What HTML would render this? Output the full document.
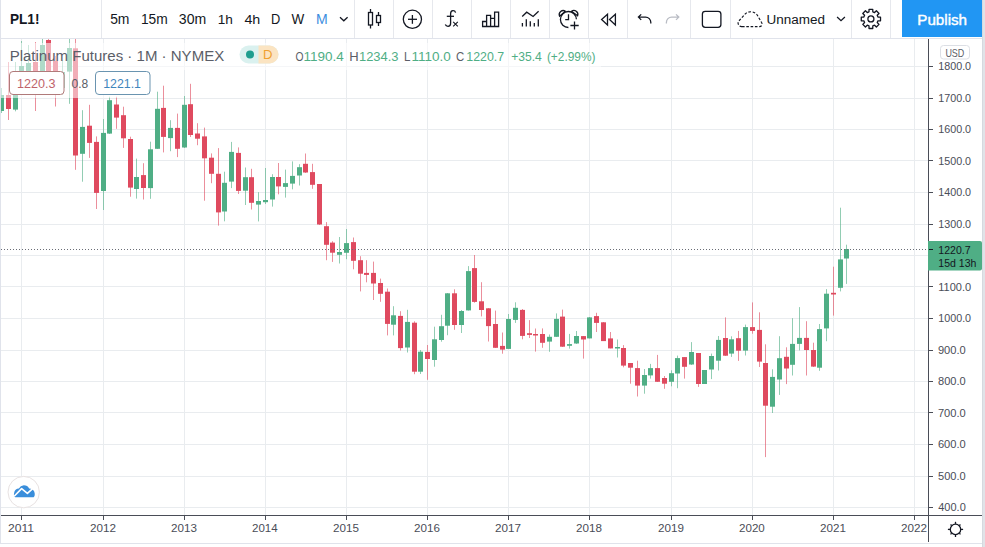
<!DOCTYPE html><html><head><meta charset="utf-8"><style>
html,body{margin:0;padding:0;width:985px;height:547px;overflow:hidden;background:#e1e3e8;}
svg{position:absolute;left:0;top:0;font-family:"Liberation Sans",sans-serif;}
</style></head><body>
<svg width="985" height="547" viewBox="0 0 985 547">
<rect x="0" y="0" width="982" height="544" fill="#ffffff"/>
<rect x="0" y="0" width="1" height="544" fill="#e0e3eb"/>
<rect x="982" y="0" width="1" height="547" fill="#d6d9df"/>
<rect x="0" y="543" width="982" height="1" fill="#e0e3eb"/>
<rect x="0" y="544" width="982" height="3" fill="#ffffff"/>
<defs><clipPath id="pane"><rect x="1" y="39" width="927" height="476"/></clipPath></defs>
<g clip-path="url(#pane)">
<rect x="1" y="507" width="927" height="1" fill="#e9ecef"/>
<rect x="1" y="476" width="927" height="1" fill="#e9ecef"/>
<rect x="1" y="444" width="927" height="1" fill="#e9ecef"/>
<rect x="1" y="412" width="927" height="1" fill="#e9ecef"/>
<rect x="1" y="381" width="927" height="1" fill="#e9ecef"/>
<rect x="1" y="350" width="927" height="1" fill="#e9ecef"/>
<rect x="1" y="318" width="927" height="1" fill="#e9ecef"/>
<rect x="1" y="286" width="927" height="1" fill="#e9ecef"/>
<rect x="1" y="255" width="927" height="1" fill="#e9ecef"/>
<rect x="1" y="224" width="927" height="1" fill="#e9ecef"/>
<rect x="1" y="192" width="927" height="1" fill="#e9ecef"/>
<rect x="1" y="160" width="927" height="1" fill="#e9ecef"/>
<rect x="1" y="129" width="927" height="1" fill="#e9ecef"/>
<rect x="1" y="98" width="927" height="1" fill="#e9ecef"/>
<rect x="1" y="66" width="927" height="1" fill="#e9ecef"/>
<rect x="21" y="39" width="1" height="476" fill="#e9ecef"/>
<rect x="103" y="39" width="1" height="476" fill="#e9ecef"/>
<rect x="184" y="39" width="1" height="476" fill="#e9ecef"/>
<rect x="265" y="39" width="1" height="476" fill="#e9ecef"/>
<rect x="346" y="39" width="1" height="476" fill="#e9ecef"/>
<rect x="427" y="39" width="1" height="476" fill="#e9ecef"/>
<rect x="508" y="39" width="1" height="476" fill="#e9ecef"/>
<rect x="589" y="39" width="1" height="476" fill="#e9ecef"/>
<rect x="671" y="39" width="1" height="476" fill="#e9ecef"/>
<rect x="752" y="39" width="1" height="476" fill="#e9ecef"/>
<rect x="833" y="39" width="1" height="476" fill="#e9ecef"/>
<rect x="914" y="39" width="1" height="476" fill="#e9ecef"/>
<rect x="1" y="88.0" width="1" height="25.0" fill="#4fae85" fill-opacity="0.62"/>
<rect x="-1" y="95.0" width="5" height="16.0" fill="#4fae85"/>
<rect x="8" y="62.0" width="1" height="58.0" fill="#df4a5f" fill-opacity="0.62"/>
<rect x="6" y="95.0" width="5" height="14.0" fill="#df4a5f"/>
<rect x="15" y="62.0" width="1" height="49.3" fill="#4fae85" fill-opacity="0.62"/>
<rect x="13" y="78.0" width="5" height="31.6" fill="#4fae85"/>
<rect x="21" y="41.0" width="1" height="51.0" fill="#4fae85" fill-opacity="0.62"/>
<rect x="19" y="66.0" width="5" height="12.0" fill="#4fae85"/>
<rect x="28" y="45.0" width="1" height="43.0" fill="#4fae85" fill-opacity="0.62"/>
<rect x="26" y="63.0" width="5" height="15.0" fill="#4fae85"/>
<rect x="35" y="42.0" width="1" height="69.0" fill="#df4a5f" fill-opacity="0.62"/>
<rect x="33" y="62.0" width="5" height="18.0" fill="#df4a5f"/>
<rect x="42" y="38.0" width="1" height="52.0" fill="#4fae85" fill-opacity="0.62"/>
<rect x="40" y="45.0" width="5" height="30.0" fill="#4fae85"/>
<rect x="48" y="38.0" width="1" height="54.0" fill="#df4a5f" fill-opacity="0.62"/>
<rect x="46" y="40.0" width="5" height="40.0" fill="#df4a5f"/>
<rect x="55" y="56.0" width="1" height="50.5" fill="#df4a5f" fill-opacity="0.62"/>
<rect x="53" y="61.0" width="5" height="19.0" fill="#df4a5f"/>
<rect x="62" y="60.0" width="1" height="35.0" fill="#4fae85" fill-opacity="0.62"/>
<rect x="60" y="72.0" width="5" height="16.0" fill="#4fae85"/>
<rect x="69" y="38.0" width="1" height="65.8" fill="#4fae85" fill-opacity="0.62"/>
<rect x="67" y="48.0" width="5" height="23.6" fill="#4fae85"/>
<rect x="75" y="38.0" width="1" height="131.8" fill="#df4a5f" fill-opacity="0.62"/>
<rect x="73" y="48.3" width="5" height="107.2" fill="#df4a5f"/>
<rect x="82" y="110.2" width="1" height="71.5" fill="#4fae85" fill-opacity="0.62"/>
<rect x="80" y="126.9" width="5" height="26.9" fill="#4fae85"/>
<rect x="89" y="104.8" width="1" height="53.1" fill="#df4a5f" fill-opacity="0.62"/>
<rect x="87" y="125.7" width="5" height="17.2" fill="#df4a5f"/>
<rect x="96" y="136.4" width="1" height="72.6" fill="#df4a5f" fill-opacity="0.62"/>
<rect x="94" y="141.9" width="5" height="51.0" fill="#df4a5f"/>
<rect x="103" y="119.0" width="1" height="91.0" fill="#4fae85" fill-opacity="0.62"/>
<rect x="101" y="132.9" width="5" height="58.1" fill="#4fae85"/>
<rect x="109" y="96.7" width="1" height="37.3" fill="#4fae85" fill-opacity="0.62"/>
<rect x="107" y="100.2" width="5" height="33.4" fill="#4fae85"/>
<rect x="116" y="96.7" width="1" height="32.1" fill="#df4a5f" fill-opacity="0.62"/>
<rect x="114" y="104.5" width="5" height="13.1" fill="#df4a5f"/>
<rect x="123" y="106.7" width="1" height="41.2" fill="#df4a5f" fill-opacity="0.62"/>
<rect x="121" y="115.2" width="5" height="23.1" fill="#df4a5f"/>
<rect x="130" y="136.7" width="1" height="60.0" fill="#df4a5f" fill-opacity="0.62"/>
<rect x="128" y="139.0" width="5" height="48.6" fill="#df4a5f"/>
<rect x="136" y="158.6" width="1" height="40.0" fill="#4fae85" fill-opacity="0.62"/>
<rect x="134" y="177.0" width="5" height="12.0" fill="#4fae85"/>
<rect x="143" y="163.2" width="1" height="36.3" fill="#df4a5f" fill-opacity="0.62"/>
<rect x="141" y="175.1" width="5" height="12.9" fill="#df4a5f"/>
<rect x="150" y="141.7" width="1" height="57.1" fill="#4fae85" fill-opacity="0.62"/>
<rect x="148" y="149.3" width="5" height="38.8" fill="#4fae85"/>
<rect x="157" y="91.7" width="1" height="57.3" fill="#4fae85" fill-opacity="0.62"/>
<rect x="155" y="108.8" width="5" height="40.0" fill="#4fae85"/>
<rect x="163" y="85.7" width="1" height="66.7" fill="#df4a5f" fill-opacity="0.62"/>
<rect x="161" y="107.9" width="5" height="29.0" fill="#df4a5f"/>
<rect x="170" y="120.2" width="1" height="31.0" fill="#4fae85" fill-opacity="0.62"/>
<rect x="168" y="127.9" width="5" height="10.2" fill="#4fae85"/>
<rect x="177" y="113.6" width="1" height="43.5" fill="#df4a5f" fill-opacity="0.62"/>
<rect x="175" y="127.9" width="5" height="20.9" fill="#df4a5f"/>
<rect x="184" y="96.0" width="1" height="52.0" fill="#4fae85" fill-opacity="0.62"/>
<rect x="182" y="104.8" width="5" height="42.7" fill="#4fae85"/>
<rect x="190" y="83.8" width="1" height="53.2" fill="#df4a5f" fill-opacity="0.62"/>
<rect x="188" y="104.2" width="5" height="30.8" fill="#df4a5f"/>
<rect x="197" y="123.2" width="1" height="22.0" fill="#df4a5f" fill-opacity="0.62"/>
<rect x="195" y="133.5" width="5" height="5.2" fill="#df4a5f"/>
<rect x="204" y="127.6" width="1" height="73.1" fill="#df4a5f" fill-opacity="0.62"/>
<rect x="202" y="136.4" width="5" height="21.9" fill="#df4a5f"/>
<rect x="211" y="153.4" width="1" height="29.8" fill="#df4a5f" fill-opacity="0.62"/>
<rect x="209" y="157.7" width="5" height="16.1" fill="#df4a5f"/>
<rect x="218" y="148.1" width="1" height="77.5" fill="#df4a5f" fill-opacity="0.62"/>
<rect x="216" y="173.8" width="5" height="38.6" fill="#df4a5f"/>
<rect x="224" y="171.7" width="1" height="49.6" fill="#4fae85" fill-opacity="0.62"/>
<rect x="222" y="182.8" width="5" height="28.7" fill="#4fae85"/>
<rect x="231" y="141.9" width="1" height="46.2" fill="#4fae85" fill-opacity="0.62"/>
<rect x="229" y="151.9" width="5" height="29.7" fill="#4fae85"/>
<rect x="238" y="147.4" width="1" height="46.6" fill="#df4a5f" fill-opacity="0.62"/>
<rect x="236" y="152.9" width="5" height="38.0" fill="#df4a5f"/>
<rect x="245" y="167.5" width="1" height="37.5" fill="#4fae85" fill-opacity="0.62"/>
<rect x="243" y="177.2" width="5" height="13.5" fill="#4fae85"/>
<rect x="251" y="168.8" width="1" height="40.7" fill="#df4a5f" fill-opacity="0.62"/>
<rect x="249" y="177.2" width="5" height="25.6" fill="#df4a5f"/>
<rect x="258" y="192.2" width="1" height="29.2" fill="#4fae85" fill-opacity="0.62"/>
<rect x="256" y="201.0" width="5" height="3.6" fill="#4fae85"/>
<rect x="265" y="168.0" width="1" height="36.0" fill="#4fae85" fill-opacity="0.62"/>
<rect x="263" y="200.0" width="5" height="2.2" fill="#4fae85"/>
<rect x="272" y="174.2" width="1" height="32.4" fill="#4fae85" fill-opacity="0.62"/>
<rect x="270" y="177.0" width="5" height="22.5" fill="#4fae85"/>
<rect x="278" y="163.0" width="1" height="31.3" fill="#df4a5f" fill-opacity="0.62"/>
<rect x="276" y="177.0" width="5" height="9.4" fill="#df4a5f"/>
<rect x="285" y="169.6" width="1" height="28.0" fill="#4fae85" fill-opacity="0.62"/>
<rect x="283" y="183.1" width="5" height="3.8" fill="#4fae85"/>
<rect x="292" y="161.4" width="1" height="27.9" fill="#4fae85" fill-opacity="0.62"/>
<rect x="290" y="175.9" width="5" height="7.7" fill="#4fae85"/>
<rect x="299" y="164.2" width="1" height="21.3" fill="#4fae85" fill-opacity="0.62"/>
<rect x="297" y="167.2" width="5" height="8.3" fill="#4fae85"/>
<rect x="305" y="153.5" width="1" height="19.5" fill="#df4a5f" fill-opacity="0.62"/>
<rect x="303" y="163.8" width="5" height="8.7" fill="#df4a5f"/>
<rect x="312" y="163.8" width="1" height="25.0" fill="#df4a5f" fill-opacity="0.62"/>
<rect x="310" y="172.1" width="5" height="12.7" fill="#df4a5f"/>
<rect x="319" y="184.0" width="1" height="41.0" fill="#df4a5f" fill-opacity="0.62"/>
<rect x="317" y="184.0" width="5" height="40.5" fill="#df4a5f"/>
<rect x="326" y="222.1" width="1" height="38.1" fill="#df4a5f" fill-opacity="0.62"/>
<rect x="324" y="226.2" width="5" height="18.6" fill="#df4a5f"/>
<rect x="332" y="241.2" width="1" height="20.7" fill="#df4a5f" fill-opacity="0.62"/>
<rect x="330" y="242.6" width="5" height="10.1" fill="#df4a5f"/>
<rect x="339" y="237.0" width="1" height="26.5" fill="#4fae85" fill-opacity="0.62"/>
<rect x="337" y="252.0" width="5" height="2.8" fill="#4fae85"/>
<rect x="346" y="229.0" width="1" height="30.2" fill="#4fae85" fill-opacity="0.62"/>
<rect x="344" y="243.1" width="5" height="9.7" fill="#4fae85"/>
<rect x="353" y="237.5" width="1" height="31.8" fill="#df4a5f" fill-opacity="0.62"/>
<rect x="351" y="242.1" width="5" height="18.7" fill="#df4a5f"/>
<rect x="360" y="256.2" width="1" height="35.2" fill="#df4a5f" fill-opacity="0.62"/>
<rect x="358" y="260.2" width="5" height="13.5" fill="#df4a5f"/>
<rect x="366" y="260.2" width="1" height="22.1" fill="#df4a5f" fill-opacity="0.62"/>
<rect x="364" y="272.9" width="5" height="2.0" fill="#df4a5f"/>
<rect x="373" y="261.6" width="1" height="38.4" fill="#df4a5f" fill-opacity="0.62"/>
<rect x="371" y="272.9" width="5" height="10.6" fill="#df4a5f"/>
<rect x="380" y="278.6" width="1" height="23.2" fill="#df4a5f" fill-opacity="0.62"/>
<rect x="378" y="283.0" width="5" height="10.8" fill="#df4a5f"/>
<rect x="387" y="288.5" width="1" height="46.9" fill="#df4a5f" fill-opacity="0.62"/>
<rect x="385" y="291.7" width="5" height="32.2" fill="#df4a5f"/>
<rect x="393" y="306.2" width="1" height="29.2" fill="#4fae85" fill-opacity="0.62"/>
<rect x="391" y="315.3" width="5" height="9.4" fill="#4fae85"/>
<rect x="400" y="311.2" width="1" height="39.3" fill="#df4a5f" fill-opacity="0.62"/>
<rect x="398" y="315.9" width="5" height="32.2" fill="#df4a5f"/>
<rect x="407" y="309.8" width="1" height="42.7" fill="#4fae85" fill-opacity="0.62"/>
<rect x="405" y="321.9" width="5" height="25.6" fill="#4fae85"/>
<rect x="414" y="321.3" width="1" height="52.9" fill="#df4a5f" fill-opacity="0.62"/>
<rect x="412" y="322.7" width="5" height="49.0" fill="#df4a5f"/>
<rect x="420" y="350.0" width="1" height="24.0" fill="#4fae85" fill-opacity="0.62"/>
<rect x="418" y="351.7" width="5" height="20.0" fill="#4fae85"/>
<rect x="427" y="345.0" width="1" height="34.8" fill="#df4a5f" fill-opacity="0.62"/>
<rect x="425" y="351.9" width="5" height="7.1" fill="#df4a5f"/>
<rect x="434" y="326.7" width="1" height="40.0" fill="#4fae85" fill-opacity="0.62"/>
<rect x="432" y="339.3" width="5" height="20.7" fill="#4fae85"/>
<rect x="441" y="314.8" width="1" height="26.9" fill="#4fae85" fill-opacity="0.62"/>
<rect x="439" y="326.2" width="5" height="13.8" fill="#4fae85"/>
<rect x="447" y="293.0" width="1" height="42.2" fill="#4fae85" fill-opacity="0.62"/>
<rect x="445" y="293.3" width="5" height="32.4" fill="#4fae85"/>
<rect x="454" y="289.3" width="1" height="40.5" fill="#df4a5f" fill-opacity="0.62"/>
<rect x="452" y="293.3" width="5" height="31.7" fill="#df4a5f"/>
<rect x="461" y="310.0" width="1" height="23.0" fill="#4fae85" fill-opacity="0.62"/>
<rect x="459" y="311.0" width="5" height="14.0" fill="#4fae85"/>
<rect x="468" y="266.1" width="1" height="44.4" fill="#4fae85" fill-opacity="0.62"/>
<rect x="466" y="271.1" width="5" height="39.3" fill="#4fae85"/>
<rect x="474" y="255.0" width="1" height="47.7" fill="#df4a5f" fill-opacity="0.62"/>
<rect x="472" y="268.1" width="5" height="33.8" fill="#df4a5f"/>
<rect x="481" y="282.2" width="1" height="34.2" fill="#df4a5f" fill-opacity="0.62"/>
<rect x="479" y="301.3" width="5" height="8.7" fill="#df4a5f"/>
<rect x="488" y="308.0" width="1" height="33.5" fill="#df4a5f" fill-opacity="0.62"/>
<rect x="486" y="308.3" width="5" height="17.8" fill="#df4a5f"/>
<rect x="495" y="310.6" width="1" height="37.4" fill="#df4a5f" fill-opacity="0.62"/>
<rect x="493" y="324.0" width="5" height="23.8" fill="#df4a5f"/>
<rect x="502" y="332.5" width="1" height="21.2" fill="#df4a5f" fill-opacity="0.62"/>
<rect x="500" y="345.9" width="5" height="3.7" fill="#df4a5f"/>
<rect x="508" y="314.0" width="1" height="35.0" fill="#4fae85" fill-opacity="0.62"/>
<rect x="506" y="319.0" width="5" height="29.9" fill="#4fae85"/>
<rect x="515" y="302.3" width="1" height="20.6" fill="#4fae85" fill-opacity="0.62"/>
<rect x="513" y="307.8" width="5" height="12.1" fill="#4fae85"/>
<rect x="522" y="309.0" width="1" height="30.3" fill="#df4a5f" fill-opacity="0.62"/>
<rect x="520" y="309.9" width="5" height="26.0" fill="#df4a5f"/>
<rect x="529" y="320.1" width="1" height="17.9" fill="#df4a5f" fill-opacity="0.62"/>
<rect x="527" y="333.2" width="5" height="1.7" fill="#df4a5f"/>
<rect x="535" y="328.5" width="1" height="23.1" fill="#df4a5f" fill-opacity="0.62"/>
<rect x="533" y="334.0" width="5" height="1.5" fill="#df4a5f"/>
<rect x="542" y="328.4" width="1" height="19.4" fill="#df4a5f" fill-opacity="0.62"/>
<rect x="540" y="334.0" width="5" height="8.8" fill="#df4a5f"/>
<rect x="549" y="334.5" width="1" height="17.3" fill="#4fae85" fill-opacity="0.62"/>
<rect x="547" y="336.8" width="5" height="4.8" fill="#4fae85"/>
<rect x="556" y="313.4" width="1" height="23.6" fill="#4fae85" fill-opacity="0.62"/>
<rect x="554" y="318.9" width="5" height="17.9" fill="#4fae85"/>
<rect x="562" y="309.6" width="1" height="37.4" fill="#df4a5f" fill-opacity="0.62"/>
<rect x="560" y="316.6" width="5" height="30.1" fill="#df4a5f"/>
<rect x="569" y="333.9" width="1" height="14.7" fill="#4fae85" fill-opacity="0.62"/>
<rect x="567" y="344.1" width="5" height="1.7" fill="#4fae85"/>
<rect x="576" y="331.0" width="1" height="13.0" fill="#4fae85" fill-opacity="0.62"/>
<rect x="574" y="336.0" width="5" height="7.5" fill="#4fae85"/>
<rect x="583" y="336.0" width="1" height="22.6" fill="#df4a5f" fill-opacity="0.62"/>
<rect x="581" y="336.1" width="5" height="3.4" fill="#df4a5f"/>
<rect x="589" y="317.0" width="1" height="21.4" fill="#4fae85" fill-opacity="0.62"/>
<rect x="587" y="317.4" width="5" height="21.0" fill="#4fae85"/>
<rect x="596" y="312.8" width="1" height="19.2" fill="#df4a5f" fill-opacity="0.62"/>
<rect x="594" y="316.1" width="5" height="6.8" fill="#df4a5f"/>
<rect x="603" y="322.0" width="1" height="19.0" fill="#df4a5f" fill-opacity="0.62"/>
<rect x="601" y="322.3" width="5" height="18.8" fill="#df4a5f"/>
<rect x="610" y="332.0" width="1" height="16.4" fill="#df4a5f" fill-opacity="0.62"/>
<rect x="608" y="338.4" width="5" height="10.0" fill="#df4a5f"/>
<rect x="617" y="339.5" width="1" height="18.0" fill="#4fae85" fill-opacity="0.62"/>
<rect x="615" y="347.0" width="5" height="1.5" fill="#4fae85"/>
<rect x="623" y="345.1" width="1" height="22.2" fill="#df4a5f" fill-opacity="0.62"/>
<rect x="621" y="348.0" width="5" height="17.6" fill="#df4a5f"/>
<rect x="630" y="363.0" width="1" height="20.7" fill="#df4a5f" fill-opacity="0.62"/>
<rect x="628" y="363.0" width="5" height="4.7" fill="#df4a5f"/>
<rect x="637" y="360.7" width="1" height="35.8" fill="#df4a5f" fill-opacity="0.62"/>
<rect x="635" y="368.1" width="5" height="17.5" fill="#df4a5f"/>
<rect x="644" y="369.0" width="1" height="24.7" fill="#4fae85" fill-opacity="0.62"/>
<rect x="642" y="375.0" width="5" height="10.6" fill="#4fae85"/>
<rect x="650" y="363.9" width="1" height="14.7" fill="#4fae85" fill-opacity="0.62"/>
<rect x="648" y="368.1" width="5" height="7.3" fill="#4fae85"/>
<rect x="657" y="354.9" width="1" height="27.1" fill="#df4a5f" fill-opacity="0.62"/>
<rect x="655" y="368.1" width="5" height="13.7" fill="#df4a5f"/>
<rect x="664" y="376.0" width="1" height="12.8" fill="#df4a5f" fill-opacity="0.62"/>
<rect x="662" y="378.0" width="5" height="5.7" fill="#df4a5f"/>
<rect x="671" y="370.3" width="1" height="16.0" fill="#4fae85" fill-opacity="0.62"/>
<rect x="669" y="373.2" width="5" height="8.6" fill="#4fae85"/>
<rect x="677" y="355.6" width="1" height="32.6" fill="#4fae85" fill-opacity="0.62"/>
<rect x="675" y="358.1" width="5" height="15.4" fill="#4fae85"/>
<rect x="684" y="357.0" width="1" height="21.6" fill="#df4a5f" fill-opacity="0.62"/>
<rect x="682" y="357.1" width="5" height="9.7" fill="#df4a5f"/>
<rect x="691" y="342.1" width="1" height="22.9" fill="#4fae85" fill-opacity="0.62"/>
<rect x="689" y="352.0" width="5" height="12.5" fill="#4fae85"/>
<rect x="698" y="353.0" width="1" height="33.9" fill="#df4a5f" fill-opacity="0.62"/>
<rect x="696" y="353.0" width="5" height="31.0" fill="#df4a5f"/>
<rect x="704" y="370.0" width="1" height="14.0" fill="#4fae85" fill-opacity="0.62"/>
<rect x="702" y="370.0" width="5" height="14.0" fill="#4fae85"/>
<rect x="711" y="353.6" width="1" height="25.5" fill="#4fae85" fill-opacity="0.62"/>
<rect x="709" y="356.0" width="5" height="13.5" fill="#4fae85"/>
<rect x="718" y="336.0" width="1" height="34.5" fill="#4fae85" fill-opacity="0.62"/>
<rect x="716" y="339.9" width="5" height="20.8" fill="#4fae85"/>
<rect x="725" y="317.4" width="1" height="38.6" fill="#df4a5f" fill-opacity="0.62"/>
<rect x="723" y="338.0" width="5" height="17.7" fill="#df4a5f"/>
<rect x="731" y="336.3" width="1" height="20.6" fill="#4fae85" fill-opacity="0.62"/>
<rect x="729" y="339.3" width="5" height="14.3" fill="#4fae85"/>
<rect x="738" y="330.9" width="1" height="30.0" fill="#df4a5f" fill-opacity="0.62"/>
<rect x="736" y="338.2" width="5" height="12.5" fill="#df4a5f"/>
<rect x="745" y="324.6" width="1" height="30.9" fill="#4fae85" fill-opacity="0.62"/>
<rect x="743" y="327.1" width="5" height="23.5" fill="#4fae85"/>
<rect x="752" y="302.4" width="1" height="31.3" fill="#df4a5f" fill-opacity="0.62"/>
<rect x="750" y="327.1" width="5" height="3.8" fill="#df4a5f"/>
<rect x="759" y="312.3" width="1" height="54.7" fill="#df4a5f" fill-opacity="0.62"/>
<rect x="757" y="329.9" width="5" height="31.7" fill="#df4a5f"/>
<rect x="765" y="344.3" width="1" height="112.8" fill="#df4a5f" fill-opacity="0.62"/>
<rect x="763" y="363.0" width="5" height="42.7" fill="#df4a5f"/>
<rect x="772" y="369.3" width="1" height="43.7" fill="#4fae85" fill-opacity="0.62"/>
<rect x="770" y="376.9" width="5" height="29.8" fill="#4fae85"/>
<rect x="779" y="336.2" width="1" height="58.7" fill="#4fae85" fill-opacity="0.62"/>
<rect x="777" y="358.2" width="5" height="21.3" fill="#4fae85"/>
<rect x="786" y="347.3" width="1" height="36.8" fill="#df4a5f" fill-opacity="0.62"/>
<rect x="784" y="356.8" width="5" height="11.7" fill="#df4a5f"/>
<rect x="792" y="318.2" width="1" height="57.3" fill="#4fae85" fill-opacity="0.62"/>
<rect x="790" y="343.9" width="5" height="20.9" fill="#4fae85"/>
<rect x="799" y="307.1" width="1" height="43.3" fill="#4fae85" fill-opacity="0.62"/>
<rect x="797" y="337.9" width="5" height="6.0" fill="#4fae85"/>
<rect x="806" y="321.2" width="1" height="54.3" fill="#df4a5f" fill-opacity="0.62"/>
<rect x="804" y="337.9" width="5" height="12.1" fill="#df4a5f"/>
<rect x="813" y="342.7" width="1" height="24.3" fill="#df4a5f" fill-opacity="0.62"/>
<rect x="811" y="350.0" width="5" height="16.6" fill="#df4a5f"/>
<rect x="819" y="324.0" width="1" height="46.8" fill="#4fae85" fill-opacity="0.62"/>
<rect x="817" y="329.1" width="5" height="38.6" fill="#4fae85"/>
<rect x="826" y="289.1" width="1" height="52.1" fill="#4fae85" fill-opacity="0.62"/>
<rect x="824" y="293.7" width="5" height="34.7" fill="#4fae85"/>
<rect x="833" y="266.7" width="1" height="48.9" fill="#df4a5f" fill-opacity="0.62"/>
<rect x="831" y="292.8" width="5" height="1.7" fill="#df4a5f"/>
<rect x="840" y="207.7" width="1" height="83.7" fill="#4fae85" fill-opacity="0.62"/>
<rect x="838" y="259.4" width="5" height="28.4" fill="#4fae85"/>
<rect x="846" y="244.7" width="1" height="39.2" fill="#4fae85" fill-opacity="0.62"/>
<rect x="844" y="249.0" width="5" height="9.5" fill="#4fae85"/>
<line x1="1" y1="249.5" x2="928" y2="249.5" stroke="#6a6d76" stroke-width="1" stroke-dasharray="1 2"/>
</g>
<rect x="1" y="43" width="600" height="27" fill="#ffffff" fill-opacity="0.55"/>
<rect x="1" y="70" width="152" height="28" fill="#ffffff" fill-opacity="0.55"/>
<text x="9.65" y="60.70" font-size="14.52" font-weight="normal" fill="#5b5e68" textLength="214.57" lengthAdjust="spacingAndGlyphs" >Platinum Futures · 1M · NYMEX</text>
<rect x="239.5" y="45.5" width="39" height="18" rx="9" fill="#d3efec" fill-opacity="0.85"/>
<path d="M258.5 45.5 H269.5 A9 9 0 0 1 269.5 63.5 H258.5 Z" fill="#fde3bf" fill-opacity="0.95"/>
<circle cx="250" cy="54.6" r="4" fill="#1e9e8e"/>
<text x="262.95" y="59.00" font-size="12.17" font-weight="normal" fill="#f0a030" textLength="9.51" lengthAdjust="spacingAndGlyphs" >D</text>
<text x="295.49" y="60.90" font-size="12.60" font-weight="normal" fill="#5b5e68" textLength="8.01" lengthAdjust="spacingAndGlyphs" >O</text>
<text x="303.62" y="60.90" font-size="12.60" font-weight="normal" fill="#4fae85" textLength="40.21" lengthAdjust="spacingAndGlyphs" >1190.4</text>
<text x="349.36" y="60.90" font-size="12.60" font-weight="normal" fill="#5b5e68" textLength="9.41" lengthAdjust="spacingAndGlyphs" >H</text>
<text x="358.97" y="60.90" font-size="12.60" font-weight="normal" fill="#4fae85" textLength="39.53" lengthAdjust="spacingAndGlyphs" >1234.3</text>
<text x="403.97" y="60.90" font-size="12.60" font-weight="normal" fill="#5b5e68" textLength="6.45" lengthAdjust="spacingAndGlyphs" >L</text>
<text x="411.52" y="60.90" font-size="12.60" font-weight="normal" fill="#4fae85" textLength="39.32" lengthAdjust="spacingAndGlyphs" >1110.0</text>
<text x="456.03" y="60.90" font-size="12.60" font-weight="normal" fill="#5b5e68" textLength="8.25" lengthAdjust="spacingAndGlyphs" >C</text>
<text x="466.31" y="60.90" font-size="12.60" font-weight="normal" fill="#4fae85" textLength="37.79" lengthAdjust="spacingAndGlyphs" >1220.7</text>
<text x="511.19" y="60.90" font-size="12.60" font-weight="normal" fill="#4fae85" textLength="30.67" lengthAdjust="spacingAndGlyphs" >+35.4</text>
<text x="546.89" y="60.90" font-size="12.60" font-weight="normal" fill="#4fae85" textLength="48.59" lengthAdjust="spacingAndGlyphs" >(+2.99%)</text>
<rect x="9.5" y="71.5" width="54.5" height="23" rx="3.5" fill="#ffffff" stroke="#b07a7a" stroke-width="1"/>
<text x="17.09" y="87.80" font-size="12.00" font-weight="normal" fill="#c0636b" textLength="38.49" lengthAdjust="spacingAndGlyphs" >1220.3</text>
<text x="71.52" y="87.80" font-size="12.00" font-weight="normal" fill="#5b5e68" textLength="16.66" lengthAdjust="spacingAndGlyphs" >0.8</text>
<rect x="95.5" y="71.5" width="54.5" height="23" rx="3.5" fill="#ffffff" stroke="#6a94b0" stroke-width="1"/>
<text x="103.21" y="87.80" font-size="12.00" font-weight="normal" fill="#3f86bd" textLength="37.79" lengthAdjust="spacingAndGlyphs" >1221.1</text>
<rect x="1" y="515" width="981" height="1" fill="#4a4d57"/>
<rect x="928" y="39" width="1" height="503" fill="#4a4d57"/>
<rect x="929" y="507" width="4" height="1" fill="#4a4d57"/>
<text x="938.28" y="511.30" font-size="11.00" font-weight="normal" fill="#4a4d57" textLength="27.48" lengthAdjust="spacingAndGlyphs" >400.0</text>
<rect x="929" y="476" width="4" height="1" fill="#4a4d57"/>
<text x="938.06" y="479.80" font-size="11.00" font-weight="normal" fill="#4a4d57" textLength="27.70" lengthAdjust="spacingAndGlyphs" >500.0</text>
<rect x="929" y="444" width="4" height="1" fill="#4a4d57"/>
<text x="937.94" y="448.30" font-size="11.00" font-weight="normal" fill="#4a4d57" textLength="27.82" lengthAdjust="spacingAndGlyphs" >600.0</text>
<rect x="929" y="412" width="4" height="1" fill="#4a4d57"/>
<text x="937.94" y="416.80" font-size="11.00" font-weight="normal" fill="#4a4d57" textLength="27.82" lengthAdjust="spacingAndGlyphs" >700.0</text>
<rect x="929" y="381" width="4" height="1" fill="#4a4d57"/>
<text x="938.06" y="385.30" font-size="11.00" font-weight="normal" fill="#4a4d57" textLength="27.70" lengthAdjust="spacingAndGlyphs" >800.0</text>
<rect x="929" y="350" width="4" height="1" fill="#4a4d57"/>
<text x="937.94" y="353.80" font-size="11.00" font-weight="normal" fill="#4a4d57" textLength="27.82" lengthAdjust="spacingAndGlyphs" >900.0</text>
<rect x="929" y="318" width="4" height="1" fill="#4a4d57"/>
<text x="938.24" y="322.30" font-size="11.00" font-weight="normal" fill="#4a4d57" textLength="32.87" lengthAdjust="spacingAndGlyphs" >1000.0</text>
<rect x="929" y="286" width="4" height="1" fill="#4a4d57"/>
<text x="938.22" y="290.80" font-size="11.00" font-weight="normal" fill="#4a4d57" textLength="32.86" lengthAdjust="spacingAndGlyphs" >1100.0</text>
<rect x="929" y="255" width="4" height="1" fill="#4a4d57"/>
<text x="938.24" y="259.30" font-size="11.00" font-weight="normal" fill="#4a4d57" textLength="32.87" lengthAdjust="spacingAndGlyphs" >1200.0</text>
<rect x="929" y="224" width="4" height="1" fill="#4a4d57"/>
<text x="938.24" y="227.80" font-size="11.00" font-weight="normal" fill="#4a4d57" textLength="32.87" lengthAdjust="spacingAndGlyphs" >1300.0</text>
<rect x="929" y="192" width="4" height="1" fill="#4a4d57"/>
<text x="938.24" y="196.30" font-size="11.00" font-weight="normal" fill="#4a4d57" textLength="32.87" lengthAdjust="spacingAndGlyphs" >1400.0</text>
<rect x="929" y="160" width="4" height="1" fill="#4a4d57"/>
<text x="938.24" y="164.80" font-size="11.00" font-weight="normal" fill="#4a4d57" textLength="32.87" lengthAdjust="spacingAndGlyphs" >1500.0</text>
<rect x="929" y="129" width="4" height="1" fill="#4a4d57"/>
<text x="938.24" y="133.30" font-size="11.00" font-weight="normal" fill="#4a4d57" textLength="32.87" lengthAdjust="spacingAndGlyphs" >1600.0</text>
<rect x="929" y="98" width="4" height="1" fill="#4a4d57"/>
<text x="938.24" y="101.80" font-size="11.00" font-weight="normal" fill="#4a4d57" textLength="32.87" lengthAdjust="spacingAndGlyphs" >1700.0</text>
<rect x="929" y="66" width="4" height="1" fill="#4a4d57"/>
<text x="938.24" y="70.30" font-size="11.00" font-weight="normal" fill="#4a4d57" textLength="32.87" lengthAdjust="spacingAndGlyphs" >1800.0</text>
<rect x="940.5" y="45.5" width="29" height="13.5" rx="3" fill="#ffffff" fill-opacity="0.6" stroke="#dcdfe5"/>
<text x="945.38" y="57.00" font-size="11.43" font-weight="normal" fill="#5b5e68" textLength="18.99" lengthAdjust="spacingAndGlyphs" >USD</text>
<path d="M928 241 H980 A2 2 0 0 1 982 243 V268.5 A2 2 0 0 1 980 270.5 H928 Z" fill="#4fae85"/>
<rect x="929" y="249" width="4" height="1" fill="#131722"/>
<text x="938.36" y="253.70" font-size="10.86" font-weight="normal" fill="#131722" textLength="32.26" lengthAdjust="spacingAndGlyphs" >1220.7</text>
<text x="938.36" y="266.60" font-size="10.00" font-weight="normal" fill="#131722" textLength="38.02" lengthAdjust="spacingAndGlyphs" >15d 13h</text>
<rect x="21" y="516" width="1" height="4" fill="#4a4d57"/>
<text x="8.00" y="531.80" font-size="11.14" font-weight="normal" fill="#4a4d57" textLength="26.02" lengthAdjust="spacingAndGlyphs" >2011</text>
<rect x="103" y="516" width="1" height="4" fill="#4a4d57"/>
<text x="90.02" y="531.80" font-size="11.14" font-weight="normal" fill="#4a4d57" textLength="26.02" lengthAdjust="spacingAndGlyphs" >2012</text>
<rect x="184" y="516" width="1" height="4" fill="#4a4d57"/>
<text x="171.02" y="531.80" font-size="11.14" font-weight="normal" fill="#4a4d57" textLength="25.90" lengthAdjust="spacingAndGlyphs" >2013</text>
<rect x="265" y="516" width="1" height="4" fill="#4a4d57"/>
<text x="252.02" y="531.80" font-size="11.14" font-weight="normal" fill="#4a4d57" textLength="25.66" lengthAdjust="spacingAndGlyphs" >2014</text>
<rect x="346" y="516" width="1" height="4" fill="#4a4d57"/>
<text x="333.02" y="531.80" font-size="11.14" font-weight="normal" fill="#4a4d57" textLength="25.90" lengthAdjust="spacingAndGlyphs" >2015</text>
<rect x="427" y="516" width="1" height="4" fill="#4a4d57"/>
<text x="414.02" y="531.80" font-size="11.14" font-weight="normal" fill="#4a4d57" textLength="25.90" lengthAdjust="spacingAndGlyphs" >2016</text>
<rect x="508" y="516" width="1" height="4" fill="#4a4d57"/>
<text x="495.02" y="531.80" font-size="11.14" font-weight="normal" fill="#4a4d57" textLength="26.02" lengthAdjust="spacingAndGlyphs" >2017</text>
<rect x="589" y="516" width="1" height="4" fill="#4a4d57"/>
<text x="576.02" y="531.80" font-size="11.14" font-weight="normal" fill="#4a4d57" textLength="25.90" lengthAdjust="spacingAndGlyphs" >2018</text>
<rect x="671" y="516" width="1" height="4" fill="#4a4d57"/>
<text x="658.02" y="531.80" font-size="11.14" font-weight="normal" fill="#4a4d57" textLength="25.90" lengthAdjust="spacingAndGlyphs" >2019</text>
<rect x="752" y="516" width="1" height="4" fill="#4a4d57"/>
<text x="739.02" y="531.80" font-size="11.14" font-weight="normal" fill="#4a4d57" textLength="25.78" lengthAdjust="spacingAndGlyphs" >2020</text>
<rect x="833" y="516" width="1" height="4" fill="#4a4d57"/>
<text x="820.02" y="531.80" font-size="11.14" font-weight="normal" fill="#4a4d57" textLength="25.90" lengthAdjust="spacingAndGlyphs" >2021</text>
<rect x="914" y="516" width="1" height="4" fill="#4a4d57"/>
<text x="901.02" y="531.80" font-size="11.14" font-weight="normal" fill="#4a4d57" textLength="26.02" lengthAdjust="spacingAndGlyphs" >2022</text>
<g transform="translate(955.5 529.4)" stroke="#131722" fill="none" stroke-width="1.3">
<circle r="5.2"/>
<line x1="5.50" y1="0.00" x2="7.60" y2="0.00"/>
<line x1="3.89" y1="3.89" x2="4.95" y2="4.95"/>
<line x1="0.00" y1="5.50" x2="0.00" y2="7.60"/>
<line x1="-3.89" y1="3.89" x2="-4.95" y2="4.95"/>
<line x1="-5.50" y1="0.00" x2="-7.60" y2="0.00"/>
<line x1="-3.89" y1="-3.89" x2="-4.95" y2="-4.95"/>
<line x1="-0.00" y1="-5.50" x2="-0.00" y2="-7.60"/>
<line x1="3.89" y1="-3.89" x2="4.95" y2="-4.95"/>
</g>
<circle cx="23.7" cy="492.1" r="15.7" fill="#ffffff" stroke="#e8e2e2" stroke-width="1"/>
<path d="M15.2 497.3 Q13.6 496.8 13.9 494.3 L14.4 491.8 Q15.3 488.6 18.8 488.4 Q20.4 485.4 23.8 485.2 Q27.6 485.2 29.1 488.5 Q32.7 488.6 34.2 491.6 Q35.6 495.6 33.6 497.3 Z" fill="#3a8edb"/>
<path d="M14.2 496.2 L21.6 488.6 L27.4 493.4 L33.2 488.2" stroke="#ffffff" stroke-width="1.6" fill="none" stroke-linejoin="round"/>
<rect x="0" y="38" width="982" height="1" fill="#e0e3eb"/>
<rect x="101" y="0" width="1" height="38" fill="#e6e8ed"/>
<rect x="354" y="0" width="1" height="38" fill="#e6e8ed"/>
<rect x="393" y="0" width="1" height="38" fill="#e6e8ed"/>
<rect x="432" y="0" width="1" height="38" fill="#e6e8ed"/>
<rect x="471" y="0" width="1" height="38" fill="#e6e8ed"/>
<rect x="510" y="0" width="1" height="38" fill="#e6e8ed"/>
<rect x="549" y="0" width="1" height="38" fill="#e6e8ed"/>
<rect x="588" y="0" width="1" height="38" fill="#e6e8ed"/>
<rect x="627" y="0" width="1" height="38" fill="#e6e8ed"/>
<rect x="690" y="0" width="1" height="38" fill="#e6e8ed"/>
<rect x="730" y="0" width="1" height="38" fill="#e6e8ed"/>
<rect x="851" y="0" width="1" height="38" fill="#e6e8ed"/>
<rect x="890" y="0" width="1" height="38" fill="#e6e8ed"/>
<text x="9.95" y="23.70" font-size="15.07" font-weight="bold" fill="#131722" textLength="29.47" lengthAdjust="spacingAndGlyphs" >PL1!</text>
<text x="110.14" y="23.80" font-size="14.20" font-weight="normal" fill="#131722" textLength="19.32" lengthAdjust="spacingAndGlyphs" >5m</text>
<text x="140.90" y="23.80" font-size="14.20" font-weight="normal" fill="#131722" textLength="26.80" lengthAdjust="spacingAndGlyphs" >15m</text>
<text x="178.84" y="23.80" font-size="14.00" font-weight="normal" fill="#131722" textLength="27.38" lengthAdjust="spacingAndGlyphs" >30m</text>
<text x="217.71" y="23.80" font-size="13.42" font-weight="normal" fill="#131722" textLength="15.14" lengthAdjust="spacingAndGlyphs" >1h</text>
<text x="244.41" y="23.80" font-size="13.42" font-weight="normal" fill="#131722" textLength="15.88" lengthAdjust="spacingAndGlyphs" >4h</text>
<text x="270.97" y="23.80" font-size="14.20" font-weight="normal" fill="#131722" textLength="9.27" lengthAdjust="spacingAndGlyphs" >D</text>
<text x="291.60" y="23.80" font-size="14.20" font-weight="normal" fill="#131722" textLength="12.75" lengthAdjust="spacingAndGlyphs" >W</text>
<text x="315.88" y="23.80" font-size="14.20" font-weight="normal" fill="#3d8ee0" textLength="11.69" lengthAdjust="spacingAndGlyphs" >M</text>
<path d="M340 17.3 L343.8 20.8 L347.6 17.3" stroke="#131722" stroke-width="1.3" fill="none"/>
<g stroke="#131722" stroke-width="1.3" fill="none"><rect x="368.5" y="12.5" width="4" height="12.5"/><line x1="370.5" y1="9" x2="370.5" y2="12.5"/><line x1="370.5" y1="25" x2="370.5" y2="28.5"/>
<rect x="376.5" y="15.5" width="4" height="7"/><line x1="378.5" y1="12" x2="378.5" y2="15.5"/><line x1="378.5" y1="22.5" x2="378.5" y2="26"/></g>
<g stroke="#131722" stroke-width="1.3" fill="none"><circle cx="412.4" cy="19.3" r="9.1"/><line x1="408" y1="19.3" x2="417" y2="19.3"/><line x1="412.4" y1="15" x2="412.4" y2="23.8"/></g>
<g stroke="#131722" stroke-width="1.3" fill="none"><path d="M455.6 12.6 Q455 10.6 452.9 10.7 Q450.6 10.9 450.6 13.8 V23.2 Q450.6 26.3 448 26.3 Q446 26.3 445.3 24.6"/><line x1="446.8" y1="16.3" x2="454" y2="16.3"/></g>
<path d="M453.2 21.8 L457.8 26.4 M457.8 21.8 L453.2 26.4" stroke="#131722" stroke-width="1.1"/>
<path d="M482.6 26.5 V21.5 H486.6 V15.4 H490.6 V18.3 H494.6 V12.2 H498.6 V26.5 Z M486.6 21.5 V26.5 M490.6 18.3 V26.5 M494.6 18.3 V26.5" stroke="#131722" stroke-width="1.3" fill="none" stroke-linejoin="miter"/>
<g stroke="#131722" stroke-width="1.3" fill="none"><path d="M522.2 16.5 L526.7 12.2 L533.1 16.5 L538.6 11.2"/><path d="M522.4 23.1 V26.4 M526.3 19.3 V26.4 M530.3 21.2 V26.4 M534.3 23.1 V26.4 M538.3 19.3 V26.4"/></g>
<g stroke="#131722" stroke-width="1.3" fill="none"><path d="M568.4 27.5 A8 8 0 1 1 576.4 19.2"/><path d="M559.6 16.2 A4 4 0 0 1 565.4 11.2 Z"/><path d="M571.5 11.2 A4 4 0 0 1 577.6 15.8 Z"/><path d="M568.5 14.2 V19.6 H565.2"/><path d="M570.4 25.5 H578.7 M574.5 21.5 V29.5"/></g>
<g stroke="#131722" stroke-width="1.3" fill="none"><path d="M607.5 14.2 L601.6 19.5 L607.5 24.9 Z"/><path d="M615.4 14.2 L609.5 19.5 L615.4 24.9 Z"/></g>
<path d="M641.2 14.4 L638.4 17.1 L641.2 19.9 M638.6 17.1 H645.6 A5.2 5.2 0 0 1 650.8 22.3 V23.6" stroke="#131722" stroke-width="1.3" fill="none"/>
<path d="M676 14.4 L678.8 17.1 L676 19.9 M678.6 17.1 H671.6 A5.2 5.2 0 0 0 666.4 22.3 V23.6" stroke="#b9bcc4" stroke-width="1.3" fill="none"/>
<rect x="702.4" y="11.3" width="18.5" height="16" rx="2.8" stroke="#131722" stroke-width="1.3" fill="none"/>
<path d="M742 26.6 H759.5 A2.6 2.6 0 0 0 761.6 22.5 L757.5 15.5 A8 8 0 0 0 745 14.2 L738.8 21 A3.5 3.5 0 0 0 742 26.6 Z" stroke="#131722" stroke-width="1.2" fill="none" stroke-dasharray="2.6 1.7"/>
<text x="766.62" y="23.50" font-size="12.88" font-weight="normal" fill="#131722" textLength="58.47" lengthAdjust="spacingAndGlyphs" >Unnamed</text>
<path d="M837.1 17.1 L841 20.7 L844.9 17.1" stroke="#131722" stroke-width="1.3" fill="none"/>
<g transform="translate(870.9 18.9)"><path d="M-1.89 -7.05 L-1.87 -9.62 L1.87 -9.62 L1.89 -7.05 L3.65 -6.32 L5.48 -8.12 L8.12 -5.48 L6.32 -3.65 L7.05 -1.89 L9.62 -1.87 L9.62 1.87 L7.05 1.89 L6.32 3.65 L8.12 5.48 L5.48 8.12 L3.65 6.32 L1.89 7.05 L1.87 9.62 L-1.87 9.62 L-1.89 7.05 L-3.65 6.32 L-5.48 8.12 L-8.12 5.48 L-6.32 3.65 L-7.05 1.89 L-9.62 1.87 L-9.62 -1.87 L-7.05 -1.89 L-6.32 -3.65 L-8.12 -5.48 L-5.48 -8.12 L-3.65 -6.32 Z" stroke="#131722" stroke-width="1.3" fill="none" stroke-linejoin="round"/><circle r="3" stroke="#131722" stroke-width="1.3" fill="none"/></g>
<rect x="902" y="0" width="80" height="37" fill="#2196f3"/>
<text x="917.29" y="24.70" font-size="14.11" font-weight="normal" fill="#ffffff" textLength="49.77" lengthAdjust="spacingAndGlyphs" stroke="#ffffff" stroke-width="0.4">Publish</text>
</svg></body></html>
